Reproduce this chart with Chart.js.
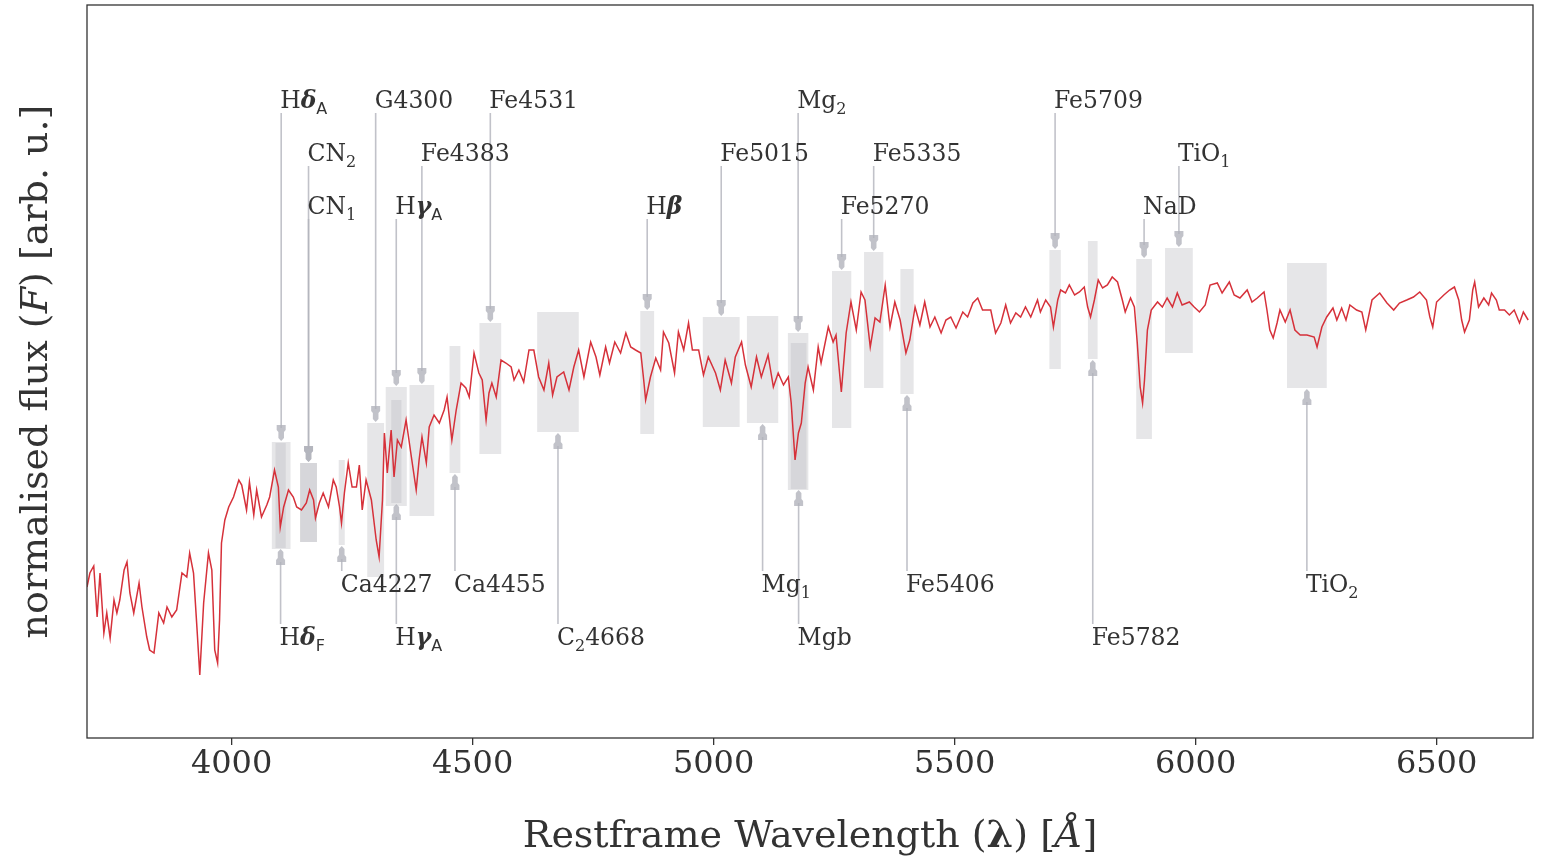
<!DOCTYPE html>
<html>
<head>
<meta charset="utf-8">
<script src="https://cdn.jsdelivr.net/npm/chart.js@4.4.0/dist/chart.umd.min.js"></script>
<style>
  html, body { margin: 0; padding: 0; background: #fff; }
  #wrap { width: 1545px; height: 856px; position: relative; }
</style>
</head>
<body>
<div id="wrap"><canvas id="spec"></canvas></div>
<script>
// ===== spectrum (restframe wavelength in Å, normalised flux) =====
const wavelength = [
  3700,3706,3714,3721,3727,3735,3741,3748,3756,3762,3768,3777,3783,3789,3797,3808,3814,3824,3830,3839,
  3849,3859,3866,3876,3886,3897,3907,3913,3921,3928,3934,3942,3952,3959,3965,3971,3975,3979,3986,3994,
  4004,4015,4021,4031,4037,4046,4052,4062,4073,4079,4089,4097,4101,4108,4118,4128,4135,4145,4155,4162,
  4170,4174,4182,4190,4201,4211,4217,
  4224,4228,4234,4242,4250,4259,4265,4271,4279,4290,4300,4306,4313,4317,4323,4331,4337,4344,4352,4362,
  4373,4383,4389,4395,4404,4410,4420,4431,4441,4447,4457,4466,4476,4486,4493,4503,4513,4520,4528,4534,
  4540,4549,4559,4569,4580,4586,4596,4606,4617,4627,4637,4648,4658,4666,4675,4689,4700,4710,4720,
  4731,4745,4756,4764,4776,4784,4795,4807,4818,4828,4838,4849,4855,4859,4869,4880,4890,4896,4907,4919,
  4927,4938,4948,4956,4969,4979,4989,5004,5014,5024,5037,5045,5058,5066,5078,5089,5099,5113,5124,5134,
  5145,5155,5161,5169,5176,5182,5190,5196,5207,5217,
  5223,5238,5248,5254,5265,5275,5285,5296,5306,5314,5325,5335,5345,5356,5366,5376,5387,5399,5407,5418,
  5428,5438,5449,5459,5472,5482,5492,5503,5517,5527,5538,5548,5558,5575,5585,5596,5606,5616,5627,5637,
  5647,5658,5672,5678,5689,5699,5705,5714,
  5720,5730,5738,5749,5759,5769,5776,5782,5790,5798,5807,5817,5827,5838,5848,5854,5865,5873,5879,5885,
  5890,5894,5900,5908,5921,5931,5941,5952,5962,5972,5987,5997,6008,6020,6030,6045,6055,6070,6080,6092,
  6107,6117,6128,6142,6148,6154,6161,6169,6175,6186,6196,
  6206,6217,6231,6246,6252,6262,6272,6285,6293,6303,6312,6320,6334,6345,6353,6366,6382,6397,6411,6423,
  6438,6452,6465,6479,6486,6492,6500,6515,6527,6537,6546,6552,6558,6568,6575,6579,6587,6598,6608,6614,
  6624,6630,6641,6651,6661,6672,6680,6690
];
const flux = [
  0.302,0.330,0.344,0.242,0.330,0.210,0.250,0.200,0.276,0.250,0.276,0.336,0.352,0.290,0.250,0.310,0.262,0.202,0.176,0.170,
  0.250,0.230,0.262,0.242,0.256,0.330,0.322,0.370,0.330,0.222,0.126,0.270,0.370,0.336,0.176,0.150,0.236,0.390,0.436,0.462,
  0.482,0.516,0.506,0.456,0.512,0.446,0.496,0.442,0.466,0.482,0.536,0.502,0.422,0.462,0.496,0.482,0.462,0.456,0.470,0.496,
  0.476,0.440,0.470,0.490,0.462,0.516,0.502,
  0.462,0.430,0.490,0.550,0.502,0.502,0.546,0.456,0.516,0.476,0.396,0.362,0.476,0.610,0.530,0.616,0.522,0.596,0.582,0.636,
  0.562,0.496,0.556,0.602,0.550,0.622,0.646,0.630,0.656,0.682,0.596,0.656,0.710,0.700,0.682,0.770,0.730,0.716,0.636,0.690,
  0.710,0.682,0.756,0.750,0.742,0.716,0.736,0.712,0.776,0.776,0.722,0.696,0.750,0.686,0.722,0.732,0.696,0.742,0.776,
  0.722,0.792,0.762,0.726,0.782,0.750,0.792,0.770,0.810,0.782,0.776,0.770,0.716,0.676,0.722,0.760,0.736,0.812,0.790,0.730,
  0.812,0.776,0.830,0.776,0.776,0.726,0.762,0.730,0.696,0.756,0.710,0.762,0.792,0.746,0.702,0.762,0.722,0.766,0.702,0.730,
  0.706,0.722,0.670,0.556,0.610,0.630,0.710,0.742,0.696,0.782,
  0.750,0.822,0.792,0.806,0.692,0.810,0.872,0.816,0.892,0.876,0.782,0.840,0.832,0.906,0.822,0.872,0.836,0.770,0.796,0.862,
  0.826,0.872,0.822,0.842,0.810,0.836,0.842,0.820,0.852,0.842,0.870,0.880,0.856,0.856,0.810,0.830,0.866,0.830,0.850,0.842,
  0.862,0.842,0.876,0.852,0.876,0.862,0.822,0.876,
  0.896,0.890,0.906,0.886,0.892,0.902,0.862,0.842,0.876,0.916,0.900,0.906,0.922,0.912,0.876,0.852,0.880,0.862,0.790,0.702,
  0.670,0.716,0.816,0.856,0.872,0.862,0.880,0.862,0.890,0.866,0.872,0.862,0.852,0.866,0.906,0.910,0.890,0.912,0.886,0.880,
  0.896,0.872,0.880,0.892,0.856,0.816,0.800,0.830,0.856,0.832,0.856,
  0.816,0.806,0.806,0.802,0.782,0.822,0.842,0.860,0.836,0.860,0.836,0.866,0.856,0.852,0.816,0.876,0.890,0.870,0.856,0.870,
  0.876,0.882,0.892,0.876,0.842,0.822,0.872,0.886,0.896,0.902,0.876,0.836,0.812,0.836,0.896,0.912,0.862,0.880,0.866,0.890,
  0.876,0.856,0.856,0.846,0.856,0.830,0.852,0.836
];

// ===== Lick / index bandpasses =====
const bandBlue = [4083.5, 4091, 4142.125, 4142.125, 4222.25, 4281.375, 4319.75, 4331.25, 4369.125, 4452.125, 4514.25, 4634,
  4847.875, 4977.625, 5069.125, 5154.125, 5160.125, 5245.65, 5312.125, 5387.5, 5696.625, 5776.625, 5876.875, 5936.625, 6189.625];
const bandRed = [4122.25, 4112.25, 4177.125, 4177.125, 4234.75, 4316.375, 4363.5, 4352.25, 4420.375, 4474.625, 4559.25, 4720.25,
  4876.625, 5054, 5134.125, 5196.625, 5192.625, 5285.65, 5352.125, 5415, 5720.375, 5796.625, 5909.375, 5994.125, 6272.125];
const boxLow = [0.378, 0.380, 0.392, 0.392, 0.386, 0.322, 0.464, 0.470, 0.444, 0.530, 0.568, 0.612,
  0.608, 0.622, 0.630, 0.496, 0.498, 0.620, 0.700, 0.688, 0.738, 0.758, 0.598, 0.770, 0.700];
const boxHigh = [0.592, 0.590, 0.550, 0.550, 0.556, 0.630, 0.702, 0.676, 0.706, 0.784, 0.830, 0.852,
  0.854, 0.842, 0.844, 0.810, 0.790, 0.934, 0.972, 0.938, 0.976, 0.994, 0.958, 0.980, 0.950];
// '*x*' bold italic, '_x' subscript
const labelText = ['H*δ*_A', 'H*δ*_F', 'CN_1', 'CN_2', 'Ca4227', 'G4300', 'H*γ*_A', 'H*γ*_A', 'Fe4383', 'Ca4455', 'Fe4531', 'C_24668',
  'H*β*', 'Fe5015', 'Mg_1', 'Mg_2', 'Mgb', 'Fe5270', 'Fe5335', 'Fe5406', 'Fe5709', 'Fe5782', 'NaD', 'TiO_1', 'TiO_2'];
const labelLevel = [1.276, 0.202, 1.064, 1.170, 0.308, 1.276, 1.064, 0.202, 1.170, 0.308, 1.276, 0.202,
  1.064, 1.170, 0.308, 1.276, 0.202, 1.064, 1.170, 0.308, 1.276, 0.202, 1.064, 1.170, 0.308];

const tickValues = [4000, 4500, 5000, 5500, 6000, 6500];

const TEXT = '#333333';
const BOX = 'rgba(186,186,192,0.36)';
const ARROW = 'rgba(178,179,187,0.8)';

function parseRich(str, size) {
  const segs = [];
  let i = 0;
  while (i < str.length) {
    const c = str[i];
    if (c === '*' || c === '#' || c === '~') {
      const j = str.indexOf(c, i + 1);
      const style = c === '*' ? 'bold italic ' : c === '#' ? 'bold ' : 'italic ';
      segs.push({ t: str.slice(i + 1, j), f: style + size + 'px "DejaVu Serif"', dy: 0 });
      i = j + 1;
    } else if (c === '_') {
      const ch = str[i + 1];
      const fam = /[0-9]/.test(ch) ? '"DejaVu Serif"' : '"DejaVu Sans"';
      segs.push({ t: ch, f: Math.round(size * 0.7) + 'px ' + fam, dy: size * 0.22 });
      i += 2;
    } else {
      let j = i;
      while (j < str.length && !'*#~_'.includes(str[j])) j++;
      segs.push({ t: str.slice(i, j), f: size + 'px "DejaVu Serif"', dy: 0 });
      i = j;
    }
  }
  return segs;
}

function richText(ctx, str, x, y, size, align) {
  const segs = parseRich(str, size);
  let w = 0;
  segs.forEach(s => { ctx.font = s.f; w += ctx.measureText(s.t).width; });
  let cx = align === 'center' ? x - w / 2 : x;
  const base = y + size * 0.36;
  ctx.textBaseline = 'alphabetic';
  ctx.textAlign = 'left';
  segs.forEach(s => {
    ctx.font = s.f;
    ctx.fillText(s.t, cx, base + s.dy);
    cx += ctx.measureText(s.t).width;
  });
}

const indexPlugin = {
  id: 'indexBands',
  beforeDatasetsDraw(chart) {
    const { ctx, scales: { x, y } } = chart;
    ctx.save();
    // bandpass boxes
    ctx.fillStyle = BOX;
    bandBlue.forEach((b, i) => {
      const x0 = x.getPixelForValue(b), x1 = x.getPixelForValue(bandRed[i]);
      const y0 = y.getPixelForValue(boxHigh[i]), y1 = y.getPixelForValue(boxLow[i]);
      ctx.fillRect(x0, y0, x1 - x0, y1 - y0);
    });
    // arrows from label to band
    ctx.strokeStyle = ARROW;
    ctx.fillStyle = ARROW;
    ctx.lineWidth = 1.6;
    bandBlue.forEach((b, i) => {
      const xc = x.getPixelForValue((b + bandRed[i]) / 2);
      const top = labelLevel[i] > boxHigh[i];
      const dir = top ? 1 : -1;
      const yl = y.getPixelForValue(labelLevel[i]);
      const start = yl + dir * 13;
      const tip = y.getPixelForValue(top ? boxHigh[i] : boxLow[i]);
      ctx.beginPath();
      ctx.moveTo(xc, start);
      ctx.lineTo(xc, tip - dir * 14);
      ctx.stroke();
      const pts = [[-4.5, -17], [4.5, -17], [4.5, -12], [2.8, -10], [2.8, -4], [0, -1], [-2.8, -4], [-2.8, -10], [-4.5, -12]];
      ctx.beginPath();
      pts.forEach((p, k) => {
        const px = xc + p[0], py = tip + dir * p[1];
        k ? ctx.lineTo(px, py) : ctx.moveTo(px, py);
      });
      ctx.closePath();
      ctx.fill();
    });
    ctx.restore();
  },
  afterDraw(chart) {
    const { ctx, chartArea: a, scales: { x, y } } = chart;
    ctx.save();
    ctx.fillStyle = TEXT;
    labelText.forEach((t, i) => {
      const xc = x.getPixelForValue((bandBlue[i] + bandRed[i]) / 2);
      richText(ctx, t, xc - 1, y.getPixelForValue(labelLevel[i]), 23.5, 'left');
    });
    // frame
    ctx.strokeStyle = '#333';
    ctx.lineWidth = 1.3;
    ctx.strokeRect(a.left, a.top, a.right - a.left, a.bottom - a.top);
    // axis titles
    ctx.fillStyle = TEXT;
    richText(ctx, 'Restframe Wavelength (#λ#) [~Å~]', (a.left + a.right) / 2, 833, 38, 'center');
    ctx.translate(33, (a.top + a.bottom) / 2);
    ctx.rotate(-Math.PI / 2);
    richText(ctx, 'normalised flux (~F~) [arb. u.]', 0, 0, 38, 'center');
    ctx.restore();
  }
};

new Chart(document.getElementById('spec'), {
  type: 'line',
  data: {
    datasets: [{
      data: wavelength.map((w, i) => ({ x: w, y: flux[i] })),
      borderColor: '#d6313a',
      borderWidth: 1.5,
      pointRadius: 0,
      tension: 0,
      fill: false,
    }],
  },
  options: {
    responsive: true,
    maintainAspectRatio: false,
    animation: false,
    layout: { padding: { left: 87, right: 12, top: 5, bottom: 0 } },
    plugins: { legend: { display: false }, tooltip: { enabled: false } },
    scales: {
      x: {
        type: 'linear',
        min: 3700,
        max: 6700,
        afterBuildTicks: s => { s.ticks = tickValues.map(v => ({ value: v })); },
        afterFit: s => { s.height = 118; },
        ticks: {
          color: TEXT,
          font: { family: 'DejaVu Serif', size: 32 },
          padding: 0,
          maxRotation: 0,
          callback: v => String(v),
        },
        grid: { drawOnChartArea: false, tickLength: 7, color: '#333', lineWidth: 1.3 },
        border: { display: false },
      },
      y: {
        display: false,
        min: 0,
        max: 1.466,
      },
    },
  },
  plugins: [indexPlugin],
});
</script>
</body>
</html>
